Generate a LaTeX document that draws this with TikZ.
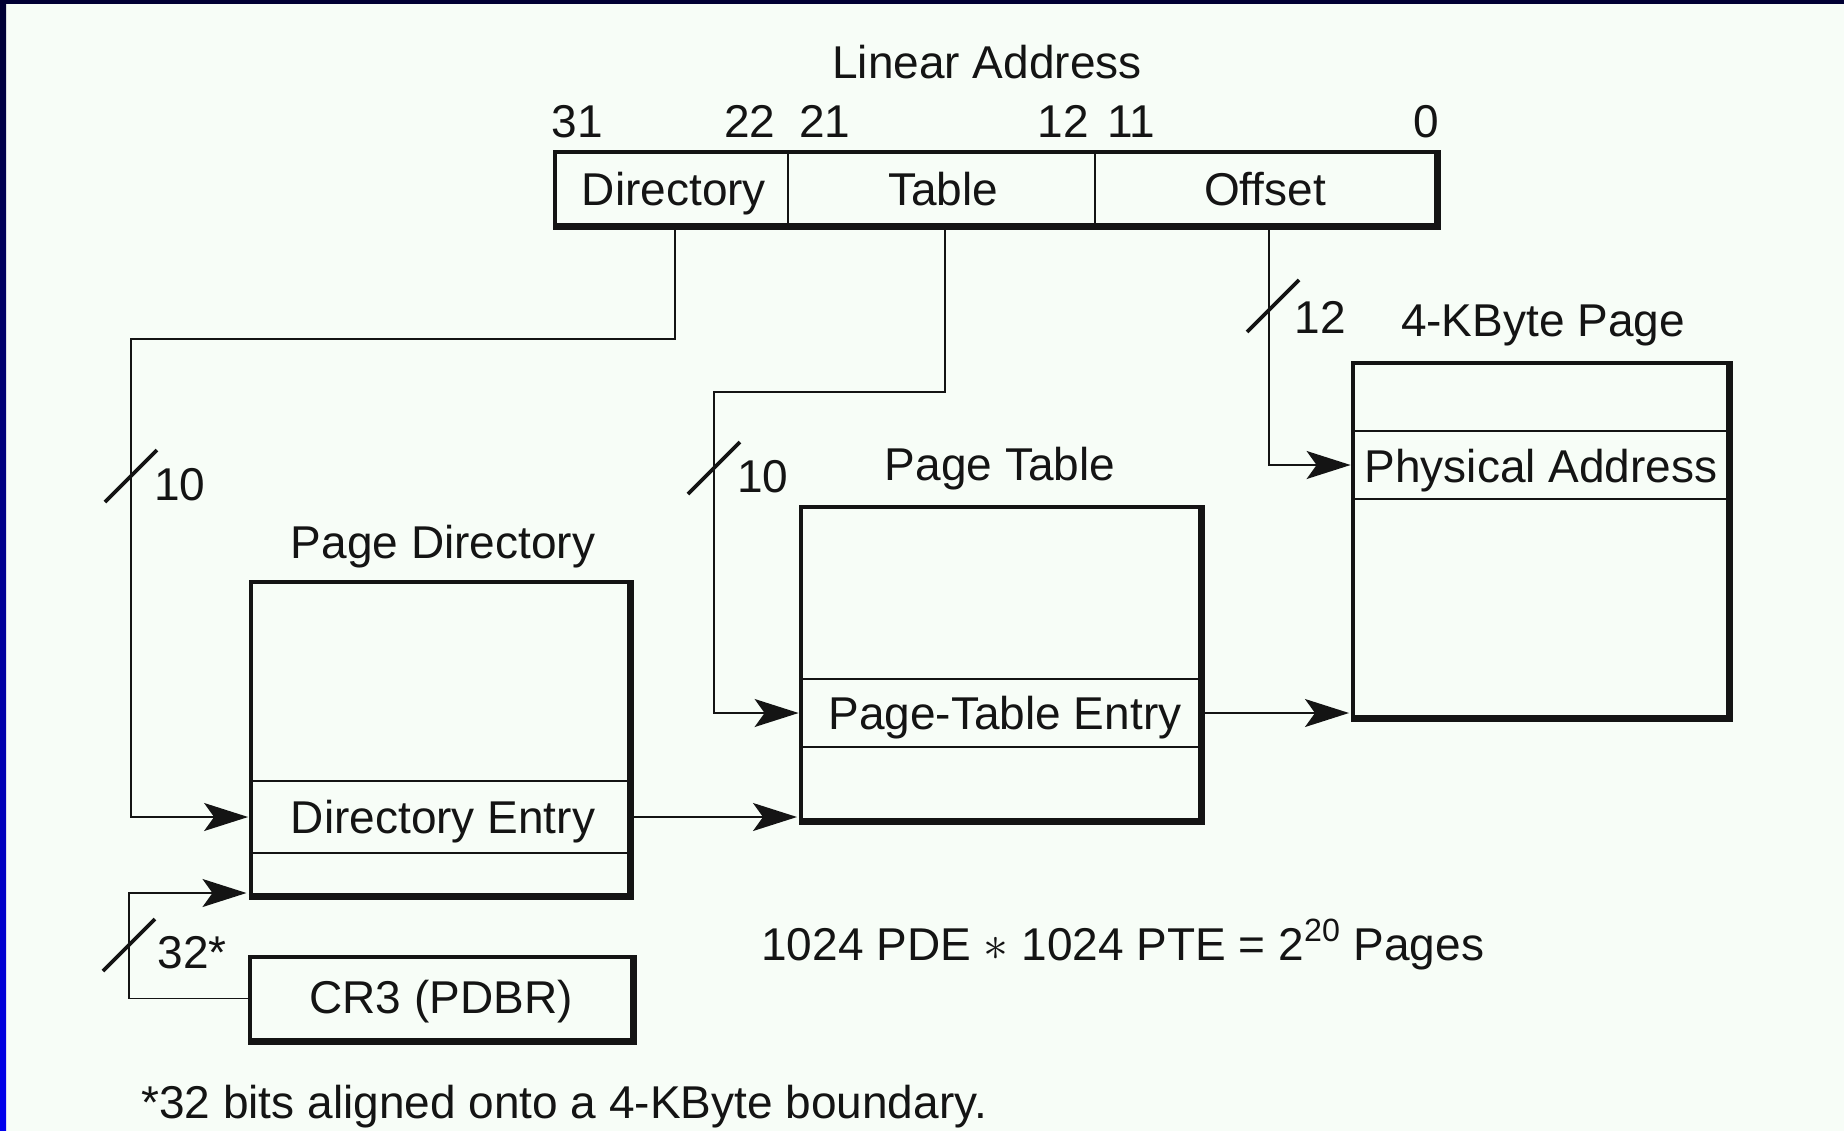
\documentclass[tikz,border=0pt]{standalone}
\usepackage{fontspec}
\setmainfont{Liberation Sans}
\usetikzlibrary{arrows.meta,calc}
\definecolor{bgc}{RGB}{247,253,247}
\definecolor{bordtop}{RGB}{0,0,51}
\definecolor{bordbot}{RGB}{0,0,238}
\definecolor{ink}{RGB}{20,20,20}
\begin{document}
\begin{tikzpicture}[x=0.5pt, y=-0.5pt, font=\fontsize{23}{27}\selectfont, color=ink,
  box/.style={draw=ink, line width=2pt, inner sep=0pt},
  field/.style={inner sep=0pt},
  txt/.style={inner sep=0pt, anchor=base, text=ink},
  conn/.style={draw=ink, line width=0.8pt, -{Stealth[length=22pt,width=14pt,inset=5pt]}, shorten >=1pt},
  slash/.style={draw=ink, line width=1.8pt},
  sepline/.style={draw=ink, line width=1pt},
  heavy/.style={draw=ink, line width=3pt}]
\useasboundingbox (0,0) rectangle (1844,1131);
\fill[bgc] (0,0) rectangle (1844,1131);
\fill[bordtop] (0,0) rectangle (1844,4);
\shade[top color=bordtop, bottom color=bordbot] (0,0) rectangle (6,1131);

% Linear address
\node[txt] (tla) at (987,78) {Linear Address};
\node[box, minimum width=440.5pt, minimum height=36.5pt] (la) at (995.5,188.5) {};
\node[field, minimum width=116.25pt, minimum height=36.5pt] (ladir) at (671.25,188.5) {};
\node[field, minimum width=153.5pt, minimum height=36.5pt] (latab) at (941,188.5) {};
\node[field, minimum width=170.75pt, minimum height=36.5pt] (laoff) at (1265.25,188.5) {};
\draw[sepline] (ladir.north east) -- (ladir.south east);
\draw[sepline] (latab.north east) -- (latab.south east);
\node[txt] (tdir) at (674,205) {Directory};
\node[txt] (ttab) at (943,205) {Table};
\node[txt] (toff) at (1265,205) {Offset};
\node[txt] (b31) at (577.5,137) {31};
\node[txt] (b22) at (750,137) {22};
\node[txt] (b21) at (825,137) {21};
\node[txt] (b12) at (1063,137) {12};
\node[txt] (b11) at (1131,137) {11};
\node[txt] (b0) at (1426,137) {0};

% Page directory
\node[txt] (tpd) at (443,558) {Page Directory};
\node[box, minimum width=189.25pt, minimum height=156.5pt] (pd) at (439.75,738.5) {};
\node[field, minimum width=189.25pt, minimum height=36pt] (de) at (439.75,817) {};
\draw[sepline] (de.north west) -- (de.north east);
\draw[sepline] (de.south west) -- (de.south east);
\node[txt] (tde) at (443,833) {Directory Entry};

% Page table
\node[txt] (tpt) at (1000,480) {Page Table};
\node[box, minimum width=199.5pt, minimum height=156.5pt] (pt) at (1000.5,663.5) {};
\node[field, minimum width=199.5pt, minimum height=34pt] (pte) at (1000.5,713) {};
\draw[sepline] (pte.north west) -- (pte.north east);
\draw[sepline] (pte.south west) -- (pte.south east);
\node[txt] (tpte) at (1005,729) {Page-Table Entry};

% 4-KByte page
\node[txt] (tpg) at (1543,336) {4-KByte Page};
\node[box, minimum width=187.5pt, minimum height=177pt] (pg) at (1540.5,540) {};
\node[field, minimum width=187.5pt, minimum height=34pt] (pa) at (1540.5,465) {};
\draw[sepline] (pa.north west) -- (pa.north east);
\draw[sepline] (pa.south west) -- (pa.south east);
\node[txt] (tpa) at (1541,482) {Physical Address};

% CR3
\node[box, minimum width=191pt, minimum height=41.5pt] (cr3) at (441,998.5) {};
\node[txt] (tcr3) at (441,1013) {CR3 (PDBR)};

\foreach \b in {la,pd,pt,pg,cr3}
  \draw[heavy] (\b.south west) -- (\b.south east) -- (\b.north east);

% connectors
\coordinate (c1) at (131,339);
\coordinate (c2) at (714,392);
\coordinate (c3) at (129,893);
\draw[conn] ([xshift=2pt]ladir.south) |- (c1) |- (de.west);
\draw[conn] ([xshift=2pt]latab.south) |- (c2) |- (pte.west);
\draw[conn] ([xshift=2pt]laoff.south) |- (pa.west);
\draw[conn] (de.east) -- (de.east -| pt.west);
\draw[conn] (pte.east) -- (pte.east -| pg.west);
\draw[conn] (cr3.west) -| (c3) -- (c3 -| pd.west);

% bus-width slashes
\coordinate (s1) at (131,476);
\coordinate (s2) at (714,468);
\coordinate (s3) at (1273,306);
\coordinate (s4) at (129,945);
\foreach \s in {s1,s2,s3,s4}
  \draw[slash] ([shift={(-26,26)}]\s) -- ([shift={(26,-26)}]\s);
\node[txt] (w1) at (180,500) {10};
\node[txt] (w2) at (763,492) {10};
\node[txt] (w3) at (1320,333) {12};
\node[txt] (w4) at (192,968) {32*};

% notes
\node[txt, anchor=base west] (eq) at (761,960) {1024 PDE $\ast$ 1024 PTE = 2\textsuperscript{20} Pages};
\node[txt, anchor=base west] (fn) at (141,1118) {*32 bits aligned onto a 4-KByte boundary.};
\end{tikzpicture}
\end{document}
